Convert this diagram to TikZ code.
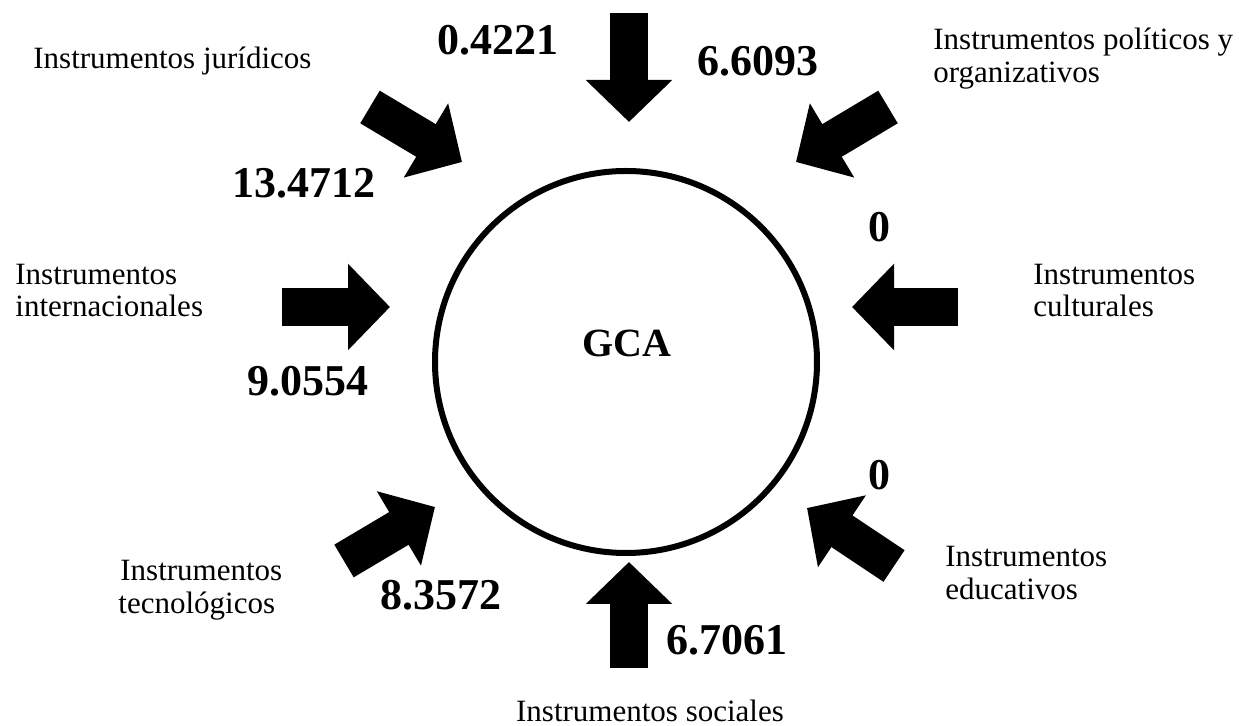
\documentclass[tikz,border=0pt]{standalone}
\usepackage{fontspec}
\setmainfont{Liberation Serif}
\usetikzlibrary{arrows.meta}
\begin{document}
\begin{tikzpicture}[x=0.5pt,y=-0.5pt,
  lbl/.style={anchor=base west,inner sep=0,font=\fontsize{15.5}{17}\selectfont},
  num/.style={anchor=base west,inner sep=0,font=\fontsize{22}{24}\selectfont\bfseries},
  blockarrow/.style={line width=19pt,-{Triangle[length=21pt 0 1,width=42pt 0 1]}}]
\useasboundingbox (0,0) rectangle (1239,726);
\node[circle,draw,line width=3pt,minimum size=191pt,inner sep=0] (ring) at (626,362) {};
\node[anchor=base,inner sep=0,font=\fontsize{20}{24}\selectfont\bfseries] (gca) at (627,357) {GCA};
% arrow end points
\coordinate (tT) at (629,13);  \coordinate (hT) at (629,122);
\coordinate (tB) at (629,668); \coordinate (hB) at (629,562);
\coordinate (tL) at (282,307); \coordinate (hL) at (390,307);
\coordinate (tR) at (958,307); \coordinate (hR) at (852,307);
\coordinate (tUL) at (370,107); \coordinate (hUL) at (462,162);
\coordinate (tUR) at (888,107); \coordinate (hUR) at (796,162);
\coordinate (tLL) at (344,561); \coordinate (hLL) at (435,507);
\coordinate (tLR) at (894,566); \coordinate (hLR) at (807,508);
\foreach \a in {T,B,L,R,UL,UR,LL,LR}{\draw[blockarrow] (t\a) -- (h\a);}
% labels
\node[lbl] (jur) at (33,69) {Instrumentos jurídicos};
\node[lbl] (pol1) at (933,50) {Instrumentos políticos y};
\node[lbl] (pol2) at (933,83) {organizativos};
\node[lbl] (int1) at (15,285) {Instrumentos};
\node[lbl] (int2) at (15,317) {internacionales};
\node[lbl] (cul1) at (1033,285) {Instrumentos};
\node[lbl] (cul2) at (1033,317) {culturales};
\node[lbl] (edu1) at (945,567) {Instrumentos};
\node[lbl] (edu2) at (945,600) {educativos};
\node[lbl] (tec1) at (120,581) {Instrumentos};
\node[lbl] (tec2) at (118,614) {tecnológicos};
\node[lbl,anchor=base] (soc) at (650,722) {Instrumentos sociales};
% numbers
\node[num] (n1) at (437,55) {0.4221};
\node[num] (n2) at (697,76) {6.6093};
\node[num] (n3) at (232,198) {13.4712};
\node[num] (n4) at (868,242) {0};
\node[num] (n5) at (247,396) {9.0554};
\node[num] (n6) at (868,490) {0};
\node[num] (n7) at (380,610) {8.3572};
\node[num] (n8) at (666,655) {6.7061};
\end{tikzpicture}
\end{document}
